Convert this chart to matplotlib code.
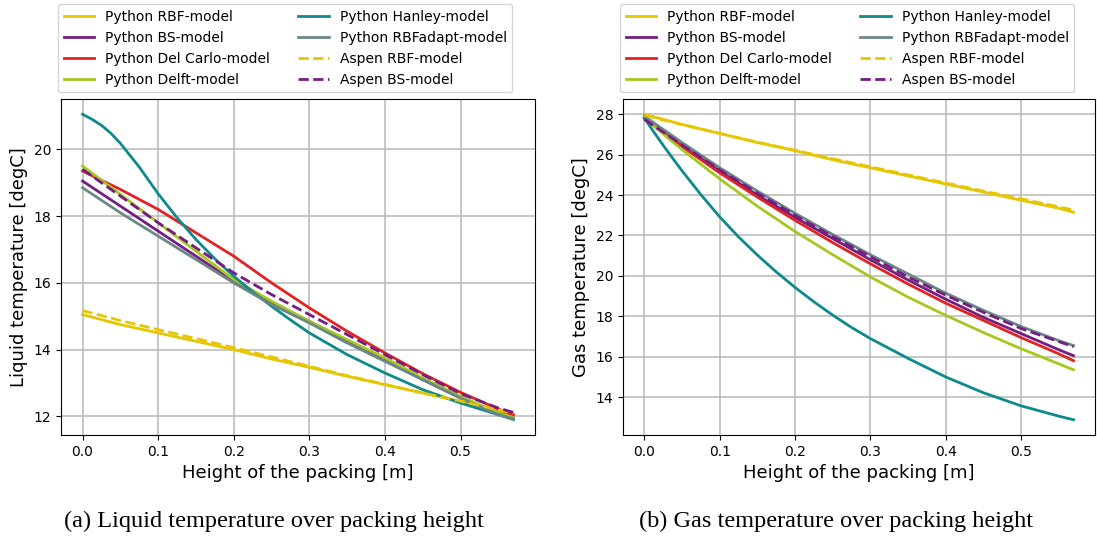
import matplotlib
matplotlib.use("Agg")
import matplotlib.pyplot as plt

# packing height [m]
height = [0.0, 0.05, 0.1, 0.15, 0.2, 0.25, 0.3, 0.35, 0.4, 0.45, 0.5, 0.55, 0.57]
# Hanley curves bend hard near the top of the packing, so they get a finer grid
height_hanley = [0.0, 0.0125, 0.025, 0.0375, 0.05, 0.075, 0.1, 0.125, 0.15, 0.175,
                 0.2, 0.225, 0.25, 0.275, 0.3, 0.35, 0.4, 0.45, 0.5, 0.55, 0.57]

# liquid temperature [degC]
liq_rbf = [15.05, 14.75, 14.5, 14.25, 14.0, 13.72, 13.47, 13.2, 12.95, 12.7, 12.45, 12.15, 12.05]
liq_bs = [19.05, 18.3, 17.55, 16.8, 16.05, 15.4, 14.85, 14.25, 13.7, 13.1, 12.55, 12.1, 11.95]
liq_delcarlo = [19.35, 18.8, 18.2, 17.5, 16.8, 16.0, 15.25, 14.55, 13.9, 13.28, 12.72, 12.22, 12.05]
liq_delft = [19.5, 18.65, 17.8, 16.95, 16.1, 15.45, 14.85, 14.3, 13.75, 13.15, 12.6, 12.1, 11.95]
liq_hanley = [21.05, 20.9, 20.72, 20.48, 20.18, 19.47, 18.67, 17.95, 17.3, 16.72,
              16.2, 15.73, 15.3, 14.89, 14.5, 13.85, 13.3, 12.8, 12.4, 12.05, 11.92]
liq_rbfadapt = [18.85, 18.1, 17.4, 16.7, 16.0, 15.35, 14.8, 14.2, 13.65, 13.1, 12.55, 12.05, 11.9]
liq_aspen_rbf = [15.17, 14.87, 14.6, 14.33, 14.06, 13.78, 13.5, 13.22, 12.96, 12.7, 12.46, 12.2, 12.1]
liq_aspen_bs = [19.4, 18.6, 17.8, 17.05, 16.3, 15.65, 15.05, 14.45, 13.85, 13.25, 12.68, 12.25, 12.12]

# gas temperature [degC]
gas_rbf = [28.0, 27.5, 27.05, 26.6, 26.2, 25.75, 25.35, 24.95, 24.55, 24.15, 23.75, 23.35, 23.15]
gas_bs = [27.8, 26.45, 25.2, 24.0, 22.9, 21.85, 20.8, 19.8, 18.85, 17.95, 17.15, 16.35, 16.05]
gas_delcarlo = [27.8, 26.4, 25.1, 23.9, 22.75, 21.65, 20.6, 19.6, 18.65, 17.8, 16.95, 16.15, 15.8]
gas_delft = [27.8, 26.25, 24.8, 23.45, 22.2, 21.05, 19.95, 18.95, 18.05, 17.2, 16.4, 15.65, 15.35]
gas_hanley = [27.8, 27.12, 26.46, 25.82, 25.2, 24.02, 22.92, 21.93, 21.03, 20.2,
              19.43, 18.72, 18.06, 17.45, 16.9, 15.92, 15.0, 14.22, 13.57, 13.06, 12.88]
gas_rbfadapt = [27.9, 26.6, 25.35, 24.2, 23.1, 22.05, 21.05, 20.1, 19.15, 18.3, 17.5, 16.8, 16.55]
gas_aspen_rbf = [27.95, 27.48, 27.05, 26.62, 26.22, 25.8, 25.4, 25.0, 24.6, 24.2, 23.82, 23.42, 23.25]
gas_aspen_bs = [27.75, 26.48, 25.25, 24.1, 23.0, 21.95, 20.95, 19.95, 19.05, 18.2, 17.4, 16.75, 16.5]

labels = ["Python RBF-model", "Python BS-model", "Python Del Carlo-model",
          "Python Delft-model", "Python Hanley-model", "Python RBFadapt-model",
          "Aspen RBF-model", "Aspen BS-model"]
colors = ["#e5c600", "#761d82", "#e32222", "#a6c81e", "#0f8a8c", "#6a8888",
          "#e5c600", "#761d82"]
styles = ["-"] * 6 + ["--"] * 2
xs = [height] * 4 + [height_hanley] + [height] * 3

liquid = [liq_rbf, liq_bs, liq_delcarlo, liq_delft, liq_hanley, liq_rbfadapt,
          liq_aspen_rbf, liq_aspen_bs]
gas = [gas_rbf, gas_bs, gas_delcarlo, gas_delft, gas_hanley, gas_rbfadapt,
       gas_aspen_rbf, gas_aspen_bs]

W, H = 1097, 538
fig = plt.figure(figsize=(W / 100, H / 100), dpi=100)

ax1 = fig.add_axes([61 / W, (H - 435) / H, 474 / W, 336 / H])
ax2 = fig.add_axes([623 / W, (H - 435) / H, 472 / W, 336 / H])

for ax, data, ylabel in [(ax1, liquid, "Liquid temperature [degC]"),
                         (ax2, gas, "Gas temperature [degC]")]:
    for x, y, lab, c, ls in zip(xs, data, labels, colors, styles):
        ax.plot(x, y, color=c, linestyle=ls, linewidth=2, label=lab)
    ax.grid(True, color="#b8b8b8", linewidth=1.1)
    ax.set_axisbelow(True)
    ax.set_xlabel("Height of the packing [m]", fontsize=13)
    ax.set_ylabel(ylabel, fontsize=13)
    ax.tick_params(labelsize=10)
    ax.legend(ncol=2, loc="lower left", bbox_to_anchor=(-0.006, 1.02),
              borderaxespad=0, fontsize=10, columnspacing=2.0,
              handlelength=2.2)

ax1.set_yticks([12, 14, 16, 18, 20])
ax2.set_yticks([14, 16, 18, 20, 22, 24, 26, 28])

# sub-figure captions
fig.text(274 / W, 1 - 521 / H, "(a) Liquid temperature over packing height",
         ha="center", va="center", fontsize=17.5, family="Liberation Serif")
fig.text(836 / W, 1 - 521 / H, "(b) Gas temperature over packing height",
         ha="center", va="center", fontsize=17.5, family="Liberation Serif")

fig.savefig("out.png", dpi=100)
